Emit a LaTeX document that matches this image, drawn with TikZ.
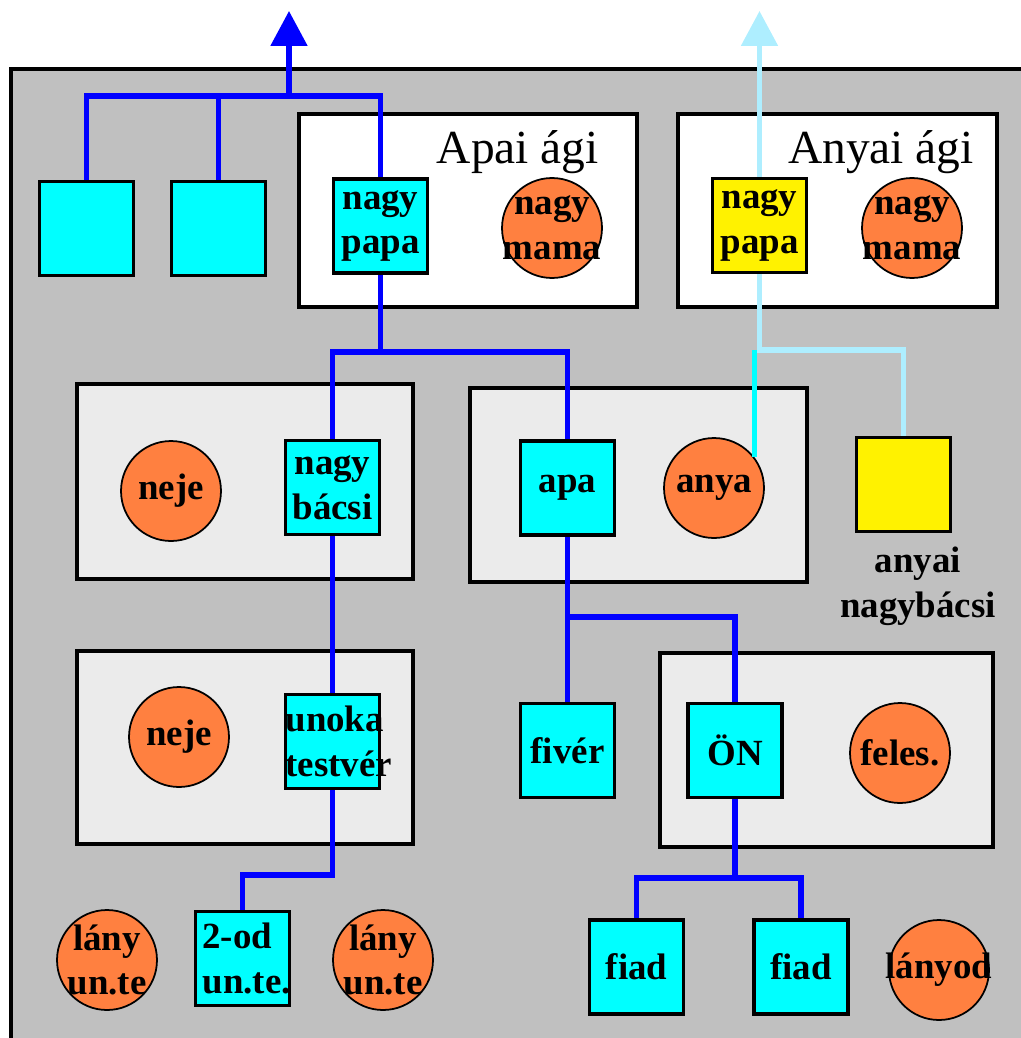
\documentclass[tikz,border=0pt]{standalone}
\usepackage{fontspec}
\setmainfont{Liberation Serif}
\usetikzlibrary{arrows.meta}
\definecolor{bggray}{RGB}{192,192,192}
\definecolor{famgray}{RGB}{235,235,235}
\definecolor{persorange}{RGB}{255,128,64}
\definecolor{lineblue}{RGB}{0,0,255}
\definecolor{lightblue}{RGB}{174,238,255}
\definecolor{brightcyan}{RGB}{0,255,255}
\newcommand{\persfont}{\fontsize{21}{25.5}\selectfont\bfseries}
\begin{document}
\begin{tikzpicture}[x=0.02cm,y=-0.02cm,line join=miter,
	man/.style={draw,line width=1.8pt,fill=brightcyan,text width=1.88cm,minimum height=1.88cm,inner sep=0pt,align=center,font=\persfont},
	maternal/.style={man,fill=yellow},
	woman/.style={circle,draw,line width=1pt,fill=persorange,minimum size=2cm,inner sep=0pt,
		label={[font=\persfont,align=center]center:#1}},
	family/.style={draw,line width=1.8pt,fill=famgray},
	side/.style={draw,line width=1.8pt,fill=white},
	bline/.style={lineblue,line width=3pt},
	lline/.style={lightblue,line width=3pt},
	tip/.style={-{Triangle[width=0.72cm,length=0.7cm]}}]
	\useasboundingbox (0,0) rectangle (1021,1038);
	\fill[bggray] (11,69) rectangle (1040,1060);
	\draw[line width=1.8pt] (11,1060)--(11,69)--(1040,69);
	\draw[side] (299,114) rectangle (637,307);
	\draw[side] (678,114) rectangle (997,307);
	\draw[family] (77,384) rectangle (413,579);
	\draw[family] (470,388) rectangle (807,582);
	\draw[family] (77,651) rectangle (413,844);
	\draw[family] (660,653) rectangle (993,847);
	\node[anchor=base east,font=\fontsize{27}{30}\selectfont] (apai) at (605,163) {Apai ági};
	\node[anchor=base east,font=\fontsize{27}{30}\selectfont] (anyai) at (980,163) {Anyai ági};
	\node[man] (b1) at (86.5,228.5) {};
	\node[man] (b2) at (218.5,228.5) {};
	\node[man] (pnp) at (380.5,226) {nagy\\papa};
	\node[woman={nagy\\mama}] (pnm) at (552,228) {};
	\node[maternal] (mnp) at (759.5,225.5) {nagy\\papa};
	\node[woman={nagy\\mama}] (mnm) at (912,228) {};
	\node[woman=neje] (neje1) at (171,491) {};
	\node[man] (nbacsi) at (332.5,487.5) {nagy\\bácsi};
	\node[man] (apa) at (567.5,488) {apa};
	\node[woman=anya] (anya) at (714,488) {};
	\node[maternal] (anb) at (903.5,484.5) {};
	\node[align=center,font=\persfont] (anbtxt) at (918,586) {anyai\\nagybácsi};
	\node[woman=neje] (neje2) at (179,737) {};
	\node[man] (unoka) at (332.5,741.5) {unoka\\testvér};
	\node[man] (fiver) at (567.5,750.5) {fivér};
	\node[man] (on) at (735,750.5) {ÖN};
	\node[woman=feles.] (feles) at (900,753) {};
	\node[woman={lány\\un.te}] (lanyut1) at (107,960) {};
	\node[man,align=left] (od) at (242.5,958.5) {\hspace*{4pt}2-od\\\hspace*{4pt}un.te.};
	\node[woman={lány\\un.te}] (lanyut2) at (383,960) {};
	\node[man] (fiad1) at (636.5,967) {fiad};
	\node[man] (fiad2) at (801,967) {fiad};
	\node[woman=lányod] (lanyod) at (939,970) {};
	\coordinate (ptop) at (289,11);
	\coordinate (pj) at (289,96);
	\coordinate (jpapa) at (380.5,352);
	\coordinate (mtop) at (759.5,11);
	\coordinate (mj) at (759.5,350);
	\coordinate (japa) at (567.5,617);
	\coordinate (j2od) at (332.5,875);
	\coordinate (jfiad) at (735,878);
	\draw[bline,tip] (pj)--(ptop);
	\draw[bline] (b1.north) |- (pj) -| (pnp.north);
	\draw[bline] (b2.north)--(b2.north |- pj);
	\draw[bline] (pnp.south)--(jpapa);
	\draw[bline] (nbacsi.north) |- (jpapa) -| (apa.north);
	\draw[bline] (nbacsi.south)--(unoka.north);
	\draw[bline] (unoka.south)--(j2od) -| (od.north);
	\draw[bline] (apa.south)--(fiver.north);
	\draw[bline] (japa) -| (on.north);
	\draw[bline] (on.south)--(jfiad);
	\draw[bline] (fiad1.north) |- (jfiad) -| (fiad2.north);
	\draw[lline,tip] (mnp.north)--(mtop);
	\draw[lline] (mnp.south)--(mj) -| (anb.north);
	\draw[brightcyan,line width=3pt] (anya.37)--(anya.37 |- mj);
\end{tikzpicture}
\end{document}
